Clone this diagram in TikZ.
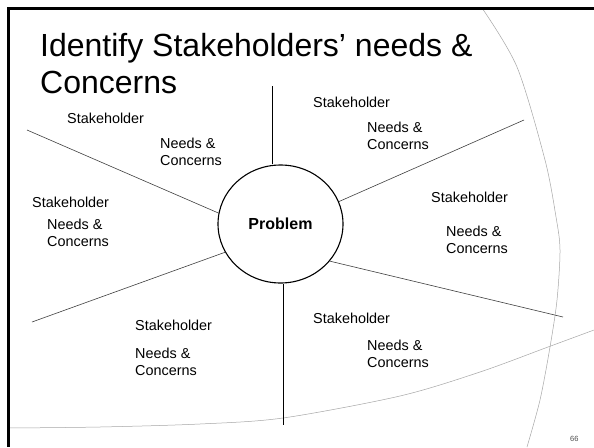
\documentclass[tikz,border=0pt]{standalone}
\usepackage{fontspec}
\setmainfont{Liberation Sans}
\usetikzlibrary{shapes.geometric}

\begin{document}
\begin{tikzpicture}[
  x=1pt,
  y=-1pt,
  every node/.style={font=\fontsize{14.4}{17.5}\selectfont, inner sep=0pt},
  who/.style={anchor=north west},
  wants/.style={anchor=north west, align=left},
  hub/.style={ellipse, draw, line width=1.1pt, minimum width=125pt,
    minimum height=118pt, font=\fontsize{16}{18}\selectfont\bfseries},
  spoke/.style={black!75, line width=0.6pt},
  stem/.style={black, line width=0.85pt},
  swoosh/.style={black!35, line width=0.5pt},
  frame/.style={black, line width=2.4pt}
]
  \useasboundingbox (0,0) rectangle (594,447);
  \fill[white] (0,0) rectangle (594,447);

  % ---- background swooshes ----
  \draw[swoosh] plot[smooth] coordinates {(482,8) (517,67) (545,160)
    (556,217) (560,250) (557,300) (550,347) (540,400) (527,447)};
  \draw[swoosh] plot[smooth] coordinates {(8,428) (100,427) (200,424)
    (283,418) (400,396) (480,372) (548,347) (594,330)};

  % ---- slide frame ----
  \draw[frame] (594,8.5) -- (8.5,8.5) -- (8.5,447);

  % ---- title ----
  \node[anchor=north west, align=left, font=\fontsize{32}{37}\selectfont]
    (title) at (40,33) {Identify Stakeholders’ needs \&\\Concerns};

  % ---- problem in the middle ----
  \node[hub] (prob) at (280.5,224) {Problem};

  % ---- spoke ends ----
  \coordinate (topEnd) at (272,86);
  \coordinate (botEnd) at (283,425);
  \coordinate (ulEnd) at (27,130);
  \coordinate (llEnd) at (32,322);
  \coordinate (urEnd) at (524,120);
  \coordinate (lrEnd) at (563,317);

  \draw[stem] (topEnd) -- (topEnd |- prob.north);
  \draw[stem] (prob.south -| botEnd) -- (botEnd);
  \draw[spoke] (prob.170) -- (ulEnd);
  \draw[spoke] (prob.207) -- (llEnd);
  \draw[spoke] (prob.21) -- (urEnd);
  \draw[spoke] (prob.-37) -- (lrEnd);

  % ---- stakeholders round the problem ----
  \node[who] (shUL) at (67,112.5) {Stakeholder};
  \node[wants] (ncUL) at (160,137.5) {Needs \&\\Concerns};
  \node[who] (shUR) at (313,96.5) {Stakeholder};
  \node[wants] (ncUR) at (367,121.5) {Needs \&\\Concerns};
  \node[who] (shL) at (32,196.5) {Stakeholder};
  \node[wants] (ncL) at (47,218.5) {Needs \&\\Concerns};
  \node[who] (shR) at (431,191.5) {Stakeholder};
  \node[wants] (ncR) at (446,225.5) {Needs \&\\Concerns};
  \node[who] (shLL) at (135,319.5) {Stakeholder};
  \node[wants] (ncLL) at (135,347.5) {Needs \&\\Concerns};
  \node[who] (shLR) at (313,312.5) {Stakeholder};
  \node[wants] (ncLR) at (367,339.5) {Needs \&\\Concerns};

  % ---- page number ----
  \node[anchor=base west, font=\fontsize{7.5}{9}\selectfont, black!70]
    (pageno) at (570,441) {66};
\end{tikzpicture}
\end{document}
